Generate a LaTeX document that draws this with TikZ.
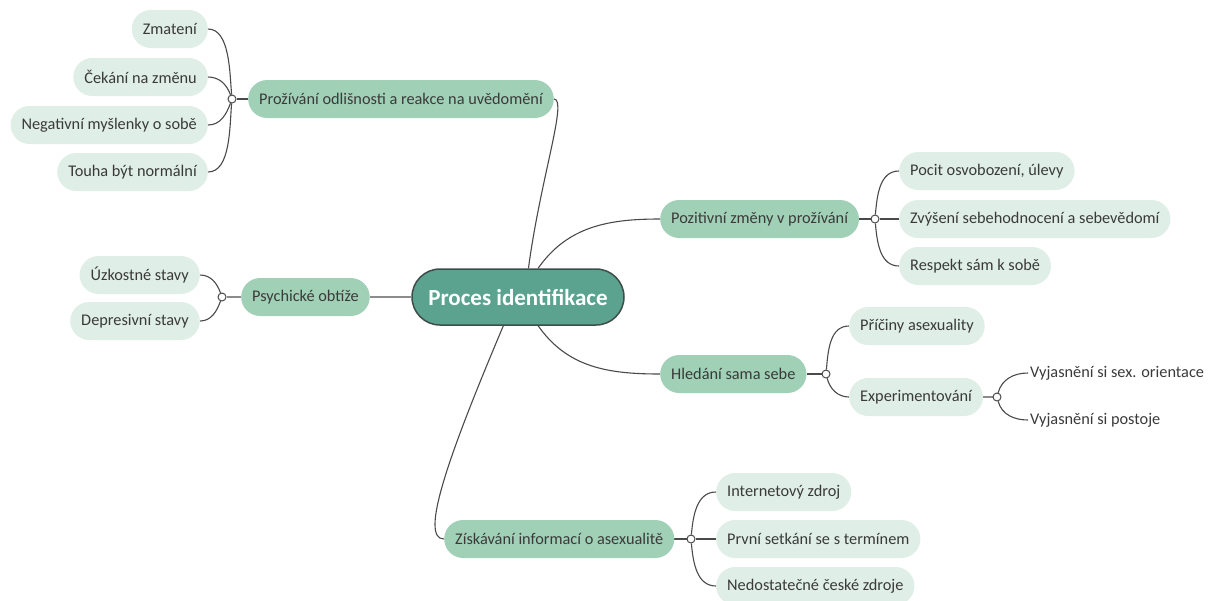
\documentclass[tikz,border=0pt]{standalone}
\usepackage{fontspec}
\setmainfont{Carlito}
\usepackage{tikz}
\definecolor{rootgreen}{HTML}{5BA38F}
\definecolor{rootline}{HTML}{3E4D49}
\definecolor{topicgreen}{HTML}{A0D0B6}
\definecolor{subgreen}{HTML}{DFEEE6}
\definecolor{textgray}{HTML}{3A3A3A}
\definecolor{linegray}{HTML}{4A4A4A}
\definecolor{stemgray}{HTML}{8C8C8C}
\tikzstyle{Root}=[shape=rectangle, rounded corners=28pt, minimum height=56pt, minimum width=212pt, fill=rootgreen, draw=rootline, line width=1.5pt, text=white, font=\fontsize{23}{26}\selectfont\bfseries]
\tikzstyle{Topic}=[shape=rectangle, rounded corners=19pt, minimum height=38pt, inner xsep=11pt, fill=topicgreen, text=textgray, font=\fontsize{16.3}{18}\selectfont]
\tikzstyle{Subtopic}=[shape=rectangle, rounded corners=19pt, minimum height=38pt, inner xsep=11pt, fill=subgreen, text=textgray, font=\fontsize{16.3}{18}\selectfont]
\tikzstyle{Leaf}=[shape=rectangle, inner xsep=2pt, text=textgray, font=\fontsize{16.3}{18}\selectfont]
\tikzstyle{Knot}=[shape=circle, minimum size=8pt, inner sep=0pt, fill=white, draw=linegray, line width=1pt]
\tikzstyle{branch}=[draw=linegray, line width=1.1pt]
\tikzstyle{stem}=[draw=stemgray, line width=2pt]
\pgfdeclarelayer{nodelayer}
\pgfdeclarelayer{edgelayer}
\pgfsetlayers{edgelayer, nodelayer, main}

\begin{document}
\begin{tikzpicture}[x=1pt, y=-1pt]
	\useasboundingbox (0,0) rectangle (1218,600);
	\begin{pgfonlayer}{nodelayer}
		\node [style=Root] (root) at (518, 297) {Proces identifikace};

		\node [style=Topic, anchor=west] (prozivani) at (248, 99) {Prožívání odlišnosti a reakce na uvědomění};
		\node [style=Topic, anchor=west] (pozitivni) at (660, 219) {Pozitivní změny v prožívání};
		\node [style=Topic, anchor=west] (psychicke) at (241, 297) {Psychické obtíže};
		\node [style=Topic, anchor=west] (hledani) at (660, 374) {Hledání sama sebe};
		\node [style=Topic, anchor=west] (ziskavani) at (444, 539) {Získávání informací o asexualitě};

		\node [style=Knot] (kProzivani) at (232, 99) {};
		\node [style=Knot] (kPsychicke) at (222, 297) {};
		\node [style=Knot] (kPozitivni) at (875, 219) {};
		\node [style=Knot] (kHledani) at (826, 374) {};
		\node [style=Knot] (kExperiment) at (997, 397) {};
		\node [style=Knot] (kZiskavani) at (691, 539) {};

		\node [style=Subtopic, anchor=east] (zmateni) at (208, 29) {Zmatení};
		\node [style=Subtopic, anchor=east] (cekani) at (208, 77) {Čekání na změnu};
		\node [style=Subtopic, anchor=east] (negativni) at (208, 125) {Negativní myšlenky o sobě};
		\node [style=Subtopic, anchor=east] (touha) at (208, 172) {Touha být normální};

		\node [style=Subtopic, anchor=east] (uzkostne) at (200, 275) {Úzkostné stavy};
		\node [style=Subtopic, anchor=east] (depresivni) at (200, 321) {Depresivní stavy};

		\node [style=Subtopic, anchor=west] (pocit) at (899, 171) {Pocit osvobození, úlevy};
		\node [style=Subtopic, anchor=west] (zvyseni) at (899, 219) {Zvýšení sebehodnocení a sebevědomí};
		\node [style=Subtopic, anchor=west] (respekt) at (899, 266) {Respekt sám k sobě};

		\node [style=Subtopic, anchor=west] (priciny) at (849, 326) {Příčiny asexuality};
		\node [style=Subtopic, anchor=west] (experiment) at (849, 397) {Experimentování};
		\node [style=Leaf, anchor=west] (orientace) at (1028, 373) {Vyjasnění si sex. orientace};
		\node [style=Leaf, anchor=west] (postoje) at (1028, 420) {Vyjasnění si postoje};

		\node [style=Subtopic, anchor=west] (internet) at (716, 492) {Internetový zdroj};
		\node [style=Subtopic, anchor=west] (setkani) at (716, 539) {První setkání se s termínem};
		\node [style=Subtopic, anchor=west] (nedostatecne) at (716, 586) {Nedostatečné české zdroje};
	\end{pgfonlayer}
	\begin{pgfonlayer}{edgelayer}
		% main branches
		\draw [style=branch] (root.70) .. controls +(12,-90) and +(14,0) .. (prozivani.east);
		\draw [style=branch] (root.55) to [out=55, in=180] (pozitivni.west);
		\draw [style=stem] (root.west) to (psychicke.east);
		\draw [style=branch] (root.-55) to [out=-55, in=180] (hledani.west);
		\draw [style=branch] (root.-117) .. controls +(-55,130) and +(-25,0) .. (ziskavani.west);

		% knots
		\draw [style=branch] (prozivani.west) to (kProzivani);
		\draw [style=stem] (psychicke.west) to (kPsychicke);
		\draw [style=branch] (pozitivni.east) to (kPozitivni);
		\draw [style=branch] (hledani.east) to (kHledani);
		\draw [style=stem] (experiment.east) to (kExperiment);
		\draw [style=branch] (ziskavani.east) to (kZiskavani);

		% sub branches
		\draw [style=branch] (kProzivani) to [out=95, in=0, looseness=0.8] (zmateni.east);
		\draw [style=branch] (kProzivani) to [out=110, in=0] (cekani.east);
		\draw [style=branch] (kProzivani) to [out=-110, in=0] (negativni.east);
		\draw [style=branch] (kProzivani) to [out=-95, in=0, looseness=0.8] (touha.east);

		\draw [style=branch] (kPsychicke) to [out=110, in=0] (uzkostne.east);
		\draw [style=branch] (kPsychicke) to [out=-110, in=0] (depresivni.east);

		\draw [style=branch] (kPozitivni) to [out=85, in=180] (pocit.west);
		\draw [style=branch] (kPozitivni) to (zvyseni.west);
		\draw [style=branch] (kPozitivni) to [out=-85, in=180] (respekt.west);

		\draw [style=branch] (kHledani) to [out=85, in=180] (priciny.west);
		\draw [style=branch] (kHledani) to [out=-75, in=180] (experiment.west);

		\draw [style=branch] (kExperiment) to [out=75, in=180] (orientace.west);
		\draw [style=branch] (kExperiment) to [out=-75, in=180] (postoje.west);

		\draw [style=branch] (kZiskavani) to [out=85, in=180] (internet.west);
		\draw [style=branch] (kZiskavani) to (setkani.west);
		\draw [style=branch] (kZiskavani) to [out=-85, in=180] (nedostatecne.west);
	\end{pgfonlayer}
\end{tikzpicture}
\end{document}
